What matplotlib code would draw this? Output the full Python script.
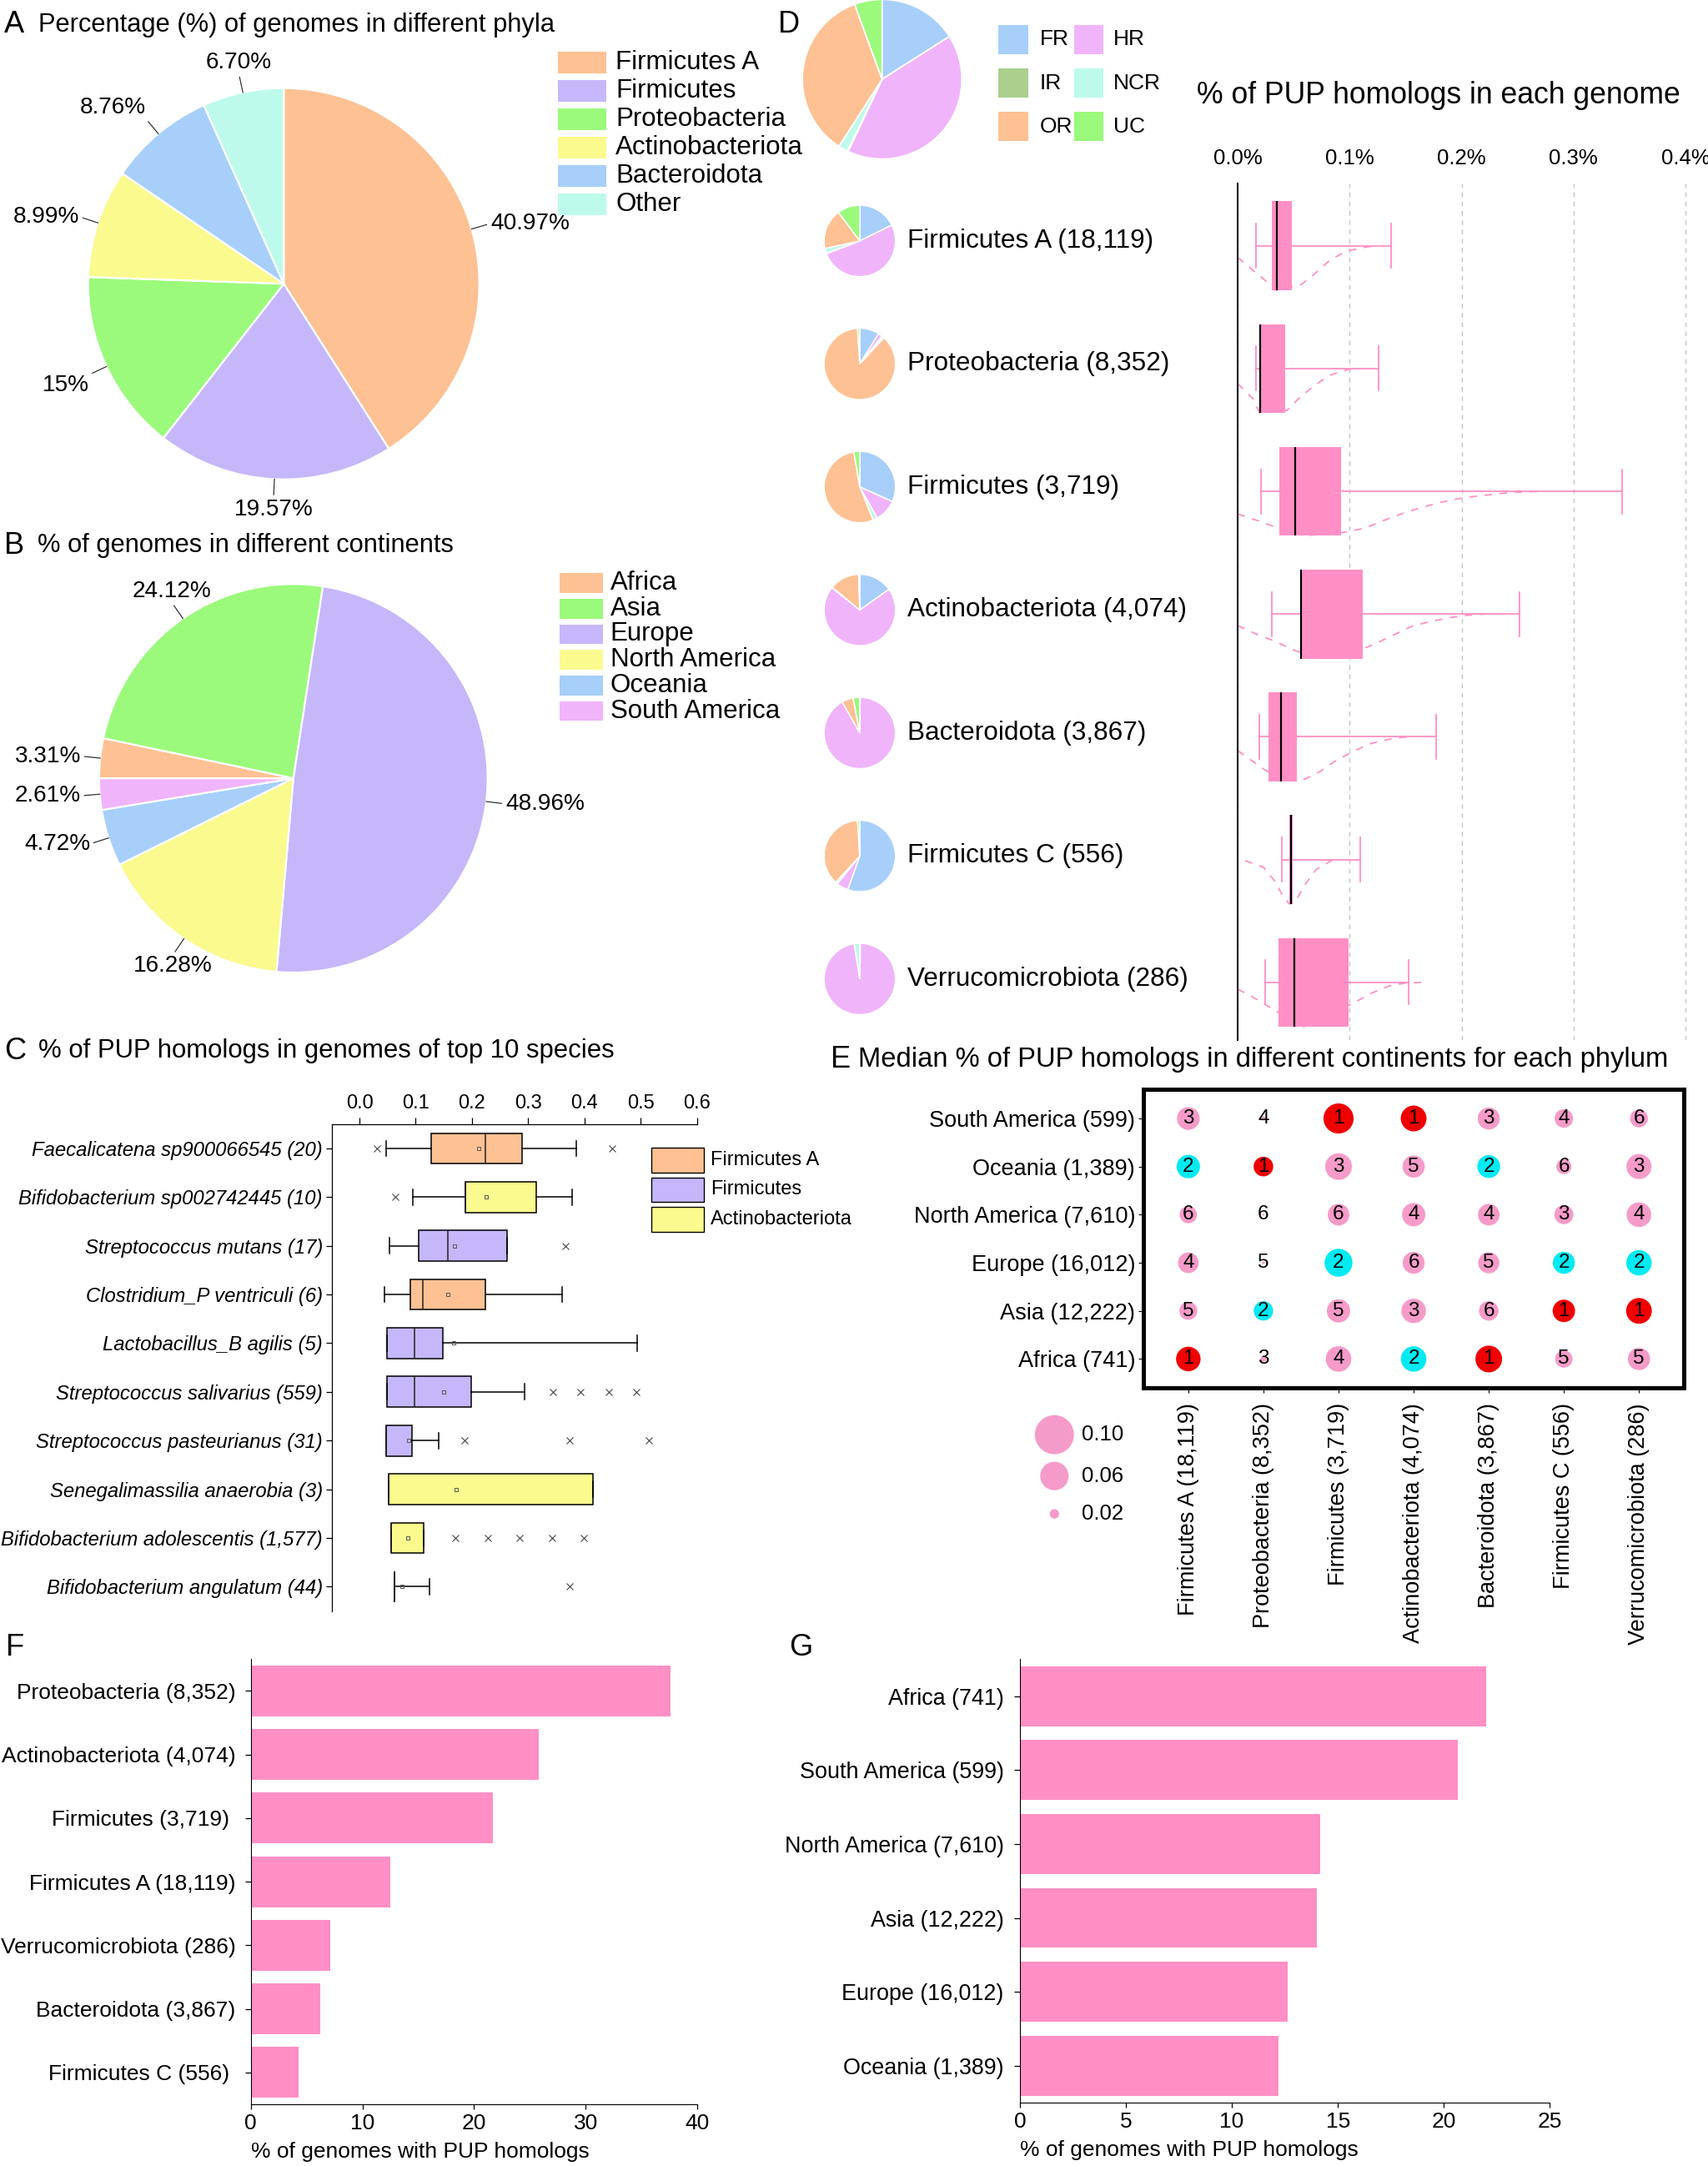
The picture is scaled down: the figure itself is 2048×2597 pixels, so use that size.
import numpy as np
import matplotlib
matplotlib.use("Agg")
import matplotlib.pyplot as plt
from matplotlib.patches import Rectangle

plt.rcParams['font.family'] = ['Liberation Sans', 'DejaVu Sans']

# ---------------- data ----------------
# A: genomes per phylum (%)
phyla_a = ["Firmicutes A", "Firmicutes", "Proteobacteria", "Actinobacteriota", "Bacteroidota", "Other"]
phyla_a_pct = [40.97, 19.57, 15.0, 8.99, 8.76, 6.70]
phyla_a_lbl = ["40.97%", "19.57%", "15%", "8.99%", "8.76%", "6.70%"]

# B: genomes per continent (%)
continents_b = ["Africa", "Asia", "Europe", "North America", "Oceania", "South America"]
continents_b_pct = [3.31, 24.12, 48.96, 16.28, 4.72, 2.61]
continents_b_lbl = ["3.31%", "24.12%", "48.96%", "16.28%", "4.72%", "2.61%"]

# C: % of PUP homologs, top 10 species (box stats)
species_c = ["Faecalicatena sp900066545 (20)", "Bifidobacterium sp002742445 (10)",
             "Streptococcus mutans (17)", "Clostridium_P ventriculi (6)",
             "Lactobacillus_B agilis (5)", "Streptococcus salivarius (559)",
             "Streptococcus pasteurianus (31)", "Senegalimassilia anaerobia (3)",
             "Bifidobacterium adolescentis (1,577)", "Bifidobacterium angulatum (44)"]
species_c_phylum = ["Firmicutes A", "Actinobacteriota", "Firmicutes", "Firmicutes A", "Firmicutes",
                    "Firmicutes", "Firmicutes", "Actinobacteriota", "Actinobacteriota", "Actinobacteriota"]
c_whislo = [0.047, 0.095, 0.053, 0.045, 0.049, 0.049, 0.047, 0.052, 0.057, 0.062]
c_q1 = [0.128, 0.189, 0.105, 0.090, 0.049, 0.049, 0.047, 0.052, 0.057, 0.062]
c_med = [0.224, 0.189, 0.157, 0.113, 0.098, 0.098, 0.047, 0.052, 0.057, 0.062]
c_q3 = [0.289, 0.315, 0.263, 0.224, 0.148, 0.198, 0.093, 0.415, 0.114, 0.062]
c_whishi = [0.386, 0.378, 0.263, 0.360, 0.494, 0.294, 0.141, 0.415, 0.114, 0.124]
c_mean = [0.212, 0.226, 0.169, 0.157, 0.167, 0.150, 0.087, 0.172, 0.086, 0.076]
c_fliers = [[0.031, 0.450], [0.063], [0.367], [], [], [0.344, 0.393, 0.443, 0.492],
            [0.187, 0.374, 0.515], [], [0.171, 0.228, 0.285, 0.342, 0.399], [0.374]]

# D: habitat composition + % of PUP homologs per genome for each phylum
habitats = ["FR", "HR", "IR", "NCR", "OR", "UC"]
habitat_all = [16.0, 41.0, 0.2, 1.9, 35.3, 5.6]
d_phyla = ["Firmicutes A (18,119)", "Proteobacteria (8,352)", "Firmicutes (3,719)",
           "Actinobacteriota (4,074)", "Bacteroidota (3,867)", "Firmicutes C (556)",
           "Verrucomicrobiota (286)"]
d_habitat = [[17.7, 51.5, 0.2, 2.2, 18.2, 10.2],
             [8.9, 1.9, 0.1, 1.0, 87.1, 1.0],
             [31.7, 10.2, 0.0, 2.0, 53.4, 2.7],
             [15.2, 70.5, 0.0, 0.3, 13.5, 0.5],
             [0.2, 91.6, 0.0, 0.0, 5.2, 3.0],
             [55.5, 5.3, 0.0, 1.0, 37.2, 1.0],
             [0.3, 97.2, 0.0, 2.5, 0.0, 0.0]]
d_whislo = [0.0167, 0.0162, 0.0207, 0.0309, 0.0197, 0.0397, 0.0249]
d_q1 = [0.0302, 0.0197, 0.0372, 0.0559, 0.0277, 0.0462, 0.0367]
d_med = [0.0347, 0.0200, 0.0516, 0.0566, 0.0384, 0.0474, 0.0509]
d_q3 = [0.0484, 0.0421, 0.0923, 0.1115, 0.0526, 0.0494, 0.0990]
d_whishi = [0.1367, 0.1257, 0.3434, 0.2514, 0.1773, 0.1095, 0.1526]
# density outline (x in %, depth as share of half box height)
d_dens_x = [[0, 0.0142, 0.0292, 0.0342, 0.0566, 0.0691, 0.0816, 0.0965, 0.114, 0.124],
            [0, 0.0142, 0.0197, 0.0441, 0.0566, 0.0691, 0.0816, 0.099, 0.1065],
            [0, 0.0192, 0.0342, 0.0591, 0.0965, 0.114, 0.129, 0.146, 0.161, 0.179, 0.196, 0.214, 0.244, 0.271],
            [0, 0.0167, 0.0342, 0.0491, 0.0716, 0.1115, 0.126, 0.141, 0.156, 0.174, 0.191, 0.206, 0.221],
            [0, 0.0242, 0.0416, 0.0603, 0.074, 0.0865, 0.103, 0.119, 0.138, 0.151],
            [0.0067, 0.0229, 0.0337, 0.0411, 0.0466, 0.0521, 0.0608, 0.0703, 0.084, 0.089],
            [0, 0.0192, 0.0317, 0.0591, 0.104, 0.119, 0.136, 0.151, 0.169]]
d_dens_y = [[0.26, 0.56, 0.875, 1.0, 0.875, 0.625, 0.34, 0.125, 0.03, 0],
            [0.34, 0.69, 1.0, 0.94, 0.625, 0.375, 0.156, 0.02, 0],
            [0.51, 0.67, 0.81, 1.0, 0.92, 0.825, 0.67, 0.51, 0.39, 0.26, 0.17, 0.106, 0.025, 0],
            [0.26, 0.45, 0.62, 0.80, 1.0, 0.79, 0.63, 0.45, 0.27, 0.156, 0.075, 0.025, 0],
            [0.31, 0.74, 1.0, 0.95, 0.775, 0.556, 0.33, 0.15, 0.04, 0],
            [0.025, 0.17, 0.5, 0.86, 1.0, 0.92, 0.54, 0.22, 0.02, 0],
            [0.15, 0.41, 0.61, 1.0, 0.46, 0.25, 0.075, 0.012, 0]]

# E: median % of PUP homologs per continent x phylum, and rank within phylum
e_rows = ["South America (599)", "Oceania (1,389)", "North America (7,610)",
          "Europe (16,012)", "Asia (12,222)", "Africa (741)"]
e_cols = ["Firmicutes A (18,119)", "Proteobacteria (8,352)", "Firmicutes (3,719)",
          "Actinobacteriota (4,074)", "Bacteroidota (3,867)", "Firmicutes C (556)",
          "Verrucomicrobiota (286)"]
e_median = [[0.0440, 0.0160, 0.0656, 0.0520, 0.0420, 0.0340, 0.0328],
            [0.0455, 0.0365, 0.0547, 0.0425, 0.0441, 0.0276, 0.0500],
            [0.0316, 0.0152, 0.0412, 0.0454, 0.0410, 0.0350, 0.0490],
            [0.0387, 0.0155, 0.0583, 0.0420, 0.0400, 0.0420, 0.0510],
            [0.0330, 0.0360, 0.0454, 0.0485, 0.0363, 0.0430, 0.0520],
            [0.0485, 0.0170, 0.0516, 0.0510, 0.0547, 0.0316, 0.0427]]
e_rank = [[3, 4, 1, 1, 3, 4, 6],
          [2, 1, 3, 5, 2, 6, 3],
          [6, 6, 6, 4, 4, 3, 4],
          [4, 5, 2, 6, 5, 2, 2],
          [5, 2, 5, 3, 6, 1, 1],
          [1, 3, 4, 2, 1, 5, 5]]
e_size_keys = [0.10, 0.06, 0.02]

# F / G: % of genomes with PUP homologs
f_phyla = ["Proteobacteria (8,352)", "Actinobacteriota (4,074)", "Firmicutes (3,719) ",
           "Firmicutes A (18,119)", "Verrucomicrobiota (286)", "Bacteroidota (3,867)",
           "Firmicutes C (556) "]
f_pct = [37.6, 25.8, 21.65, 12.5, 7.15, 6.2, 4.25]
g_continents = ["Africa (741)", "South America (599)", "North America (7,610)",
                "Asia (12,222)", "Europe (16,012)", "Oceania (1,389)"]
g_pct = [22.0, 20.65, 14.15, 14.0, 12.65, 12.2]

# ---------------- style ----------------
ORANGE = '#FDC193'
LAVENDER = '#C6B7FA'
GREEN = '#9BFA7B'
YELLOW = '#FAFA8E'
BLUE = '#A7CFFA'
AQUA = '#BDFAEB'
VIOLET = '#F0B4FA'
OLIVE = '#ABCF8C'
PINK = '#FF8FC5'
phyla_colors = [ORANGE, LAVENDER, GREEN, YELLOW, BLUE, AQUA]
cont_colors = [ORANGE, GREEN, LAVENDER, YELLOW, BLUE, VIOLET]
hab_colors = [BLUE, VIOLET, OLIVE, AQUA, ORANGE, GREEN]
c_colors = {"Firmicutes A": ORANGE, "Firmicutes": LAVENDER, "Actinobacteriota": YELLOW}

fig = plt.figure(figsize=(20.48, 25.97), dpi=100)
W = 1240.0
H = 2597 * W / 2048


def rect(x0, y0, x1, y1):
    return [x0 / W, 1 - y1 / H, (x1 - x0) / W, (y1 - y0) / H]


def ftext(x, y, s, **kw):
    kw.setdefault('va', 'center')
    fig.text(x / W, 1 - y / H, s, **kw)


def fbox(x0, y0, x1, y1, color, **kw):
    fig.add_artist(Rectangle((x0 / W, 1 - y1 / H), (x1 - x0) / W, (y1 - y0) / H,
                             transform=fig.transFigure, facecolor=color, **kw))


def draw_pie(cx, cy, r, vals, cols, start, lw, pad=1.03):
    ax = fig.add_axes(rect(cx - r * pad, cy - r * pad, cx + r * pad, cy + r * pad))
    wedges, _ = ax.pie(vals, colors=cols, startangle=start, counterclock=False,
                       wedgeprops=dict(edgecolor='white', linewidth=lw))
    ax.set_xlim(-pad, pad)
    ax.set_ylim(-pad, pad)
    ax.set_aspect('equal')
    ax.axis('off')
    return ax, wedges


def pie_labels(ax, wedges, labels, fs):
    for w, lab in zip(wedges, labels):
        ang = np.deg2rad((w.theta1 + w.theta2) / 2)
        c, s = np.cos(ang), np.sin(ang)
        ax.plot([c, c * 1.08], [s, s * 1.08], color='#333333', lw=0.9, clip_on=False)
        ha = 'left' if c > 0.6 else ('right' if c < -0.6 else 'center')
        va = 'bottom' if s > 0.75 else ('top' if s < -0.4 else 'center')
        ax.text(c * 1.1, s * 1.1, lab, ha=ha, va=va, fontsize=fs, clip_on=False)


# ---------------- A ----------------
ftext(3, 18, "A", fontsize=26)
ftext(28, 18, "Percentage (%) of genomes in different phyla", fontsize=22.2)
ax, wedges = draw_pie(206, 206, 142, phyla_a_pct, phyla_colors, 90, 1.6)
pie_labels(ax, wedges, phyla_a_lbl, 20.2)
for i, name in enumerate(phyla_a):
    y = 45.5 + i * 20.6
    fbox(405, y - 8, 440, y + 8, phyla_colors[i])
    ftext(447, y, name, fontsize=22.5)

# ---------------- B ----------------
ftext(3, 396, "B", fontsize=26)
ftext(27, 396, "% of genomes in different continents", fontsize=22.2)
ax, wedges = draw_pie(213, 565, 141, continents_b_pct, cont_colors, 180, 1.6)
pie_labels(ax, wedges, continents_b_lbl, 20.2)
for i, name in enumerate(continents_b):
    y = 423.2 + i * 18.6
    fbox(406, y - 7.2, 437.5, y + 7.2, cont_colors[i])
    ftext(443, y, name, fontsize=22.5)

# ---------------- C ----------------
ftext(3, 763, "C", fontsize=26)
ftext(28, 763, "% of PUP homologs in genomes of top 10 species", fontsize=22.4)
ax = fig.add_axes(rect(241, 816, 505.9, 1169.5))
stats = []
for i in range(len(species_c)):
    stats.append(dict(whislo=c_whislo[i], q1=c_q1[i], med=c_med[i], q3=c_q3[i],
                      whishi=c_whishi[i], mean=c_mean[i], fliers=c_fliers[i]))
bp = ax.bxp(stats, positions=np.arange(len(species_c)), widths=0.63, capwidths=0.32,
            orientation='horizontal', patch_artist=True, showmeans=True,
            boxprops=dict(edgecolor='black', linewidth=1.1),
            whiskerprops=dict(color='black', linewidth=1.1),
            capprops=dict(color='black', linewidth=1.1),
            medianprops=dict(color='#222222', linewidth=1.1),
            meanprops=dict(marker='s', markersize=3, markerfacecolor='none',
                           markeredgecolor='#555555', markeredgewidth=0.7),
            flierprops=dict(marker='x', markersize=5.5, markeredgecolor='#444444',
                            markeredgewidth=0.8))
for patch, ph in zip(bp['boxes'], species_c_phylum):
    patch.set_facecolor(c_colors[ph])
ax.set_xlim(-0.049, 0.6)
ax.set_ylim(9.5, -0.5)
ax.set_xticks([0.0, 0.1, 0.2, 0.3, 0.4, 0.5, 0.6])
ax.set_xticklabels(["0.0", "0.1", "0.2", "0.3", "0.4", "0.5", "0.6"])
ax.xaxis.set_ticks_position('top')
ax.set_yticks(np.arange(len(species_c)))
ax.set_yticklabels(species_c, fontstyle='italic')
ax.tick_params(axis='x', labelsize=17, length=6, width=0.9, pad=4)
ax.tick_params(axis='y', labelsize=17.2, length=5, width=0.9, pad=3)
for side in ['bottom', 'right']:
    ax.spines[side].set_visible(False)
for side in ['top', 'left']:
    ax.spines[side].set_linewidth(0.9)
for i, name in enumerate(["Firmicutes A", "Firmicutes", "Actinobacteriota"]):
    y = 842.2 + i * 21.5
    fbox(473, y - 9, 511, y + 9, c_colors[name], edgecolor='black', linewidth=1.0)
    ftext(516, y, name, fontsize=17)

# ---------------- D ----------------
ftext(565, 18, "D", fontsize=26)
draw_pie(640.4, 57.5, 57.9, habitat_all, hab_colors, 90, 1.3)
for i, name in enumerate(habitats):
    col, row = i % 2, i // 2
    y = 28.7 + row * 31.6
    x0 = 725 if col == 0 else 779.7
    fbox(x0, y - 10.6, x0 + 21.6, y + 10.6, hab_colors[i])
    ftext(755 if col == 0 else 808, y, name, fontsize=19)
ftext(869, 69.5, "% of PUP homologs in each genome", fontsize=25.6)

for i, name in enumerate(d_phyla):
    cy = 174.9 + i * 89.3
    vals = [v for v in d_habitat[i] if v > 0]
    cols = [c for v, c in zip(d_habitat[i], hab_colors) if v > 0]
    draw_pie(624.2, cy, 25.9, vals, cols, 90, 1.1)
    ftext(659, cy, name, fontsize=22.7)

ax = fig.add_axes(rect(898.5, 133, 1240, 755))
half = 0.724 / 2
for i in range(len(d_phyla)):
    ax.plot(d_dens_x[i], i + np.array(d_dens_y[i]) * half, color=PINK, lw=1.3,
            ls=(0, (5, 5)), zorder=1)
stats = []
for i in range(len(d_phyla)):
    stats.append(dict(whislo=d_whislo[i], q1=d_q1[i], med=d_med[i], q3=d_q3[i],
                      whishi=d_whishi[i], fliers=[]))
bp = ax.bxp(stats, positions=np.arange(len(d_phyla)), widths=0.724, capwidths=0.36,
            orientation='horizontal', patch_artist=True, showfliers=False,
            boxprops=dict(facecolor=PINK, edgecolor='none', linewidth=0),
            whiskerprops=dict(color=PINK, linewidth=1.3),
            capprops=dict(color=PINK, linewidth=1.3),
            medianprops=dict(color='black', linewidth=1.6), zorder=3)
ax.set_xlim(0, 0.42)
ax.set_ylim(6.47, -0.51)
ax.set_xticks([0.0, 0.1, 0.2, 0.3, 0.4])
ax.set_xticklabels(["0.0%", "0.1%", "0.2%", "0.3%", "0.4%"])
ax.xaxis.set_ticks_position('top')
ax.tick_params(axis='x', labelsize=18.5, length=0, pad=13)
ax.set_yticks([])
ax.grid(axis='x', color='#c4c4c4', lw=1.0, ls=(0, (4, 4)))
ax.set_axisbelow(True)
for side in ['top', 'bottom', 'right']:
    ax.spines[side].set_visible(False)
ax.spines['left'].set_linewidth(1.4)
ax.spines['left'].set_zorder(5)

# ---------------- E ----------------
ftext(603, 769, "E", fontsize=26)
ftext(623, 769, "Median % of PUP homologs in different continents for each phylum", fontsize=23.6)


def circle_size(v):
    d_px = 46.8 * np.sqrt(max(v - 0.015, 0.00002) / 0.085)
    return (d_px * 0.72) ** 2


rank_colors = {1: '#F00000', 2: '#00EAF2'}
ax = fig.add_axes(rect(830, 791, 1222.6, 1007.5))
for r in range(len(e_rows)):
    for c in range(len(e_cols)):
        v = e_median[r][c]
        rk = e_rank[r][c]
        ax.scatter(c, r, s=circle_size(v), color=rank_colors.get(rk, '#F59BC9'),
                   edgecolors='none', zorder=2)
        ax.text(c, r, str(rk), ha='center', va='center', fontsize=17.5, zorder=3)
ax.set_xlim(-0.6, 6.6)
ax.set_ylim(5.6, -0.6)
ax.set_xticks(np.arange(len(e_cols)))
ax.set_xticklabels(e_cols, rotation=90, va='top', ha='center')
ax.set_yticks(np.arange(len(e_rows)))
ax.set_yticklabels(e_rows)
ax.tick_params(axis='x', labelsize=19.5, length=4, width=0.8, pad=9)
ax.tick_params(axis='y', labelsize=19.5, length=4, width=0.8, pad=3)
for side in ax.spines:
    ax.spines[side].set_linewidth(3.6)

ax = fig.add_axes(rect(740, 1020, 830, 1115))
ax.set_xlim(740, 830)
ax.set_ylim(1115, 1020)
ax.axis('off')
for k, yk in zip(e_size_keys, [1041.5, 1071.5, 1099.0]):
    ax.scatter(765.5, yk, s=circle_size(k), color='#F59BC9', edgecolors='none', clip_on=False)
    ax.text(785, yk, f"{k:.2f}", ha='left', va='center', fontsize=18.5)

# ---------------- F ----------------
ftext(4, 1196, "F", fontsize=26)
ax = fig.add_axes(rect(182, 1204.5, 506.4, 1527.6))
ax.barh(np.arange(len(f_phyla)), f_pct, height=0.8, color=PINK)
ax.set_xlim(0, 40)
ax.set_ylim(6.5, -0.5)
ax.set_xticks([0, 10, 20, 30, 40])
ax.set_yticks(np.arange(len(f_phyla)))
ax.set_yticklabels(f_phyla)
ax.tick_params(axis='x', labelsize=19, length=4, width=0.9, pad=4)
ax.tick_params(axis='y', labelsize=19, length=5, width=0.9, pad=8)
ax.set_xlabel("% of genomes with PUP homologs", fontsize=19, loc='left', labelpad=7)
for side in ['top', 'right']:
    ax.spines[side].set_visible(False)

# ---------------- G ----------------
ftext(573, 1196, "G", fontsize=26)
ax = fig.add_axes(rect(740.4, 1204.5, 1125.2, 1526.5))
ax.barh(np.arange(len(g_continents)), g_pct, height=0.81, color=PINK)
ax.set_xlim(0, 25)
ax.set_ylim(5.5, -0.5)
ax.set_xticks([0, 5, 10, 15, 20, 25])
ax.set_yticks(np.arange(len(g_continents)))
ax.set_yticklabels(g_continents)
ax.tick_params(axis='x', labelsize=19, length=4, width=0.9, pad=4)
ax.tick_params(axis='y', labelsize=19.4, length=5, width=0.9, pad=9)
ax.set_xlabel("% of genomes with PUP homologs", fontsize=19, loc='left', labelpad=7)
for side in ['top', 'right']:
    ax.spines[side].set_visible(False)

fig.savefig("out.png", dpi=100)
